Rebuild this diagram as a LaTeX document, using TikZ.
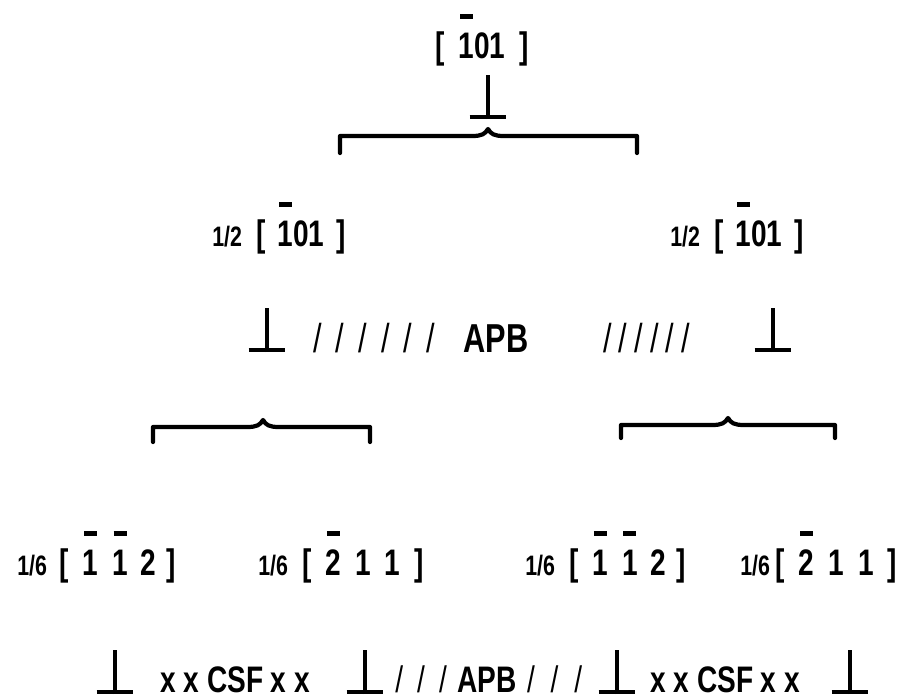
\documentclass[tikz,border=0pt]{standalone}
\usepackage{fontspec}
\setmainfont{Liberation Sans}[FakeStretch=0.76]

% bar over a negative index
\newcommand{\negidx}[1]{\setbox0\hbox{#1}\rlap{\hbox to\wd0{\hss\raisebox{22pt}{\rule{7.4pt}{2.8pt}}\hss}}\box0\relax}
% dislocation sign
\newcommand{\dislo}{\mbox{\rule[-1.2pt]{21pt}{2.3pt}\hspace{-11.65pt}\rule[-1.2pt]{2.3pt}{25pt}\hspace{9.35pt}}}
\newcommand{\frc}[1]{{\fontsize{16}{18}\selectfont #1}}

\tikzset{
  txt/.style={inner sep=0pt, font=\fontsize{21}{25}\selectfont\bfseries},
  big/.style={inner sep=0pt, font=\fontsize{23}{27}\selectfont\bfseries},
  hatch/.style={inner sep=0pt, font=\fontsize{23}{27}\selectfont},
  brace/.style={line width=2.4pt, line cap=round, line join=round},
}

% x1, x2, tip, level, tick end
\newcommand{\splitbrace}[5]{%
  \draw[brace] (#1,#5) -- (#1,#4) -- (#3-16,#4)
    .. controls (#3-6,#4) and (#3-3,#4-2) .. (#3,#4-7)
    .. controls (#3+3,#4-2) and (#3+6,#4) .. (#3+16,#4) -- (#2,#4) -- (#2,#5);
}

\begin{document}
\begin{tikzpicture}[x=0.2mm, y=-0.2mm]
\useasboundingbox (0,0) rectangle (917,698);

% perfect dislocation
\node[txt, anchor=base west] (b0) at (435,58) {[\hspace{8pt}\negidx{1}01\hspace{8pt}]};
\node[txt, anchor=base] (d0) at (488,117) {\dislo};
\splitbrace{340}{637}{488}{136}{153}

% superpartials
\node[txt, anchor=base west] (b1) at (212,246) {\frc{1/2}\hspace{8pt}[\hspace{7pt}\negidx{1}01\hspace{7pt}]};
\node[txt, anchor=base west] (b2) at (670,246) {\frc{1/2}\hspace{8pt}[\hspace{7pt}\negidx{1}01\hspace{7pt}]};

\node[txt, anchor=base] (d1) at (267,350) {\dislo};
\node[hatch, anchor=base west] (h1) at (313,352) {/\hspace{8pt}/\hspace{8pt}/\hspace{8pt}/\hspace{8pt}/\hspace{8pt}/};
\node[big, anchor=base west] (apb) at (463,352) {APB};
\node[hatch, anchor=base west] (h2) at (603,352) {/\hspace{4pt}/\hspace{4pt}/\hspace{4pt}/\hspace{4pt}/\hspace{4pt}/};
\node[txt, anchor=base] (d2) at (773,350) {\dislo};

\splitbrace{153}{370}{263}{427}{442}
\splitbrace{621}{835}{728}{425}{438}

% Shockley partials
\node[txt, anchor=base west] (p1) at (17,575) {\frc{1/6}\hspace{7pt}[\hspace{8pt}\negidx{1}\hspace{8pt}\negidx{1}\hspace{7pt}2\hspace{6pt}]};
\node[txt, anchor=base west] (p2) at (258,575) {\frc{1/6}\hspace{8pt}[\hspace{8pt}\negidx{2}\hspace{8pt}1\hspace{8pt}1\hspace{8pt}]};
\node[txt, anchor=base west] (p3) at (525,575) {\frc{1/6}\hspace{8pt}[\hspace{8pt}\negidx{1}\hspace{8pt}\negidx{1}\hspace{7pt}2\hspace{6pt}]};
\node[txt, anchor=base west] (p4) at (740,575) {\frc{1/6}\hspace{3pt}[\hspace{8pt}\negidx{2}\hspace{8pt}1\hspace{8pt}1\hspace{8pt}]};

\foreach \x/\n in {115/e1, 365/e2, 617/e3, 850/e4}
  \node[txt, anchor=base] (\n) at (\x,692) {\dislo};
\node[txt, anchor=base west] (c1) at (160,692) {x x CSF x x};
\node[txt, anchor=base west] (c2) at (650,692) {x x CSF x x};
\node[txt, anchor=base west] (a1) at (395,692) {\mdseries/\hspace{8pt}/\hspace{8pt}/\hspace{6pt}\bfseries APB\hspace{6pt}\mdseries/\hspace{9pt}/\hspace{9pt}/};
\end{tikzpicture}
\end{document}
